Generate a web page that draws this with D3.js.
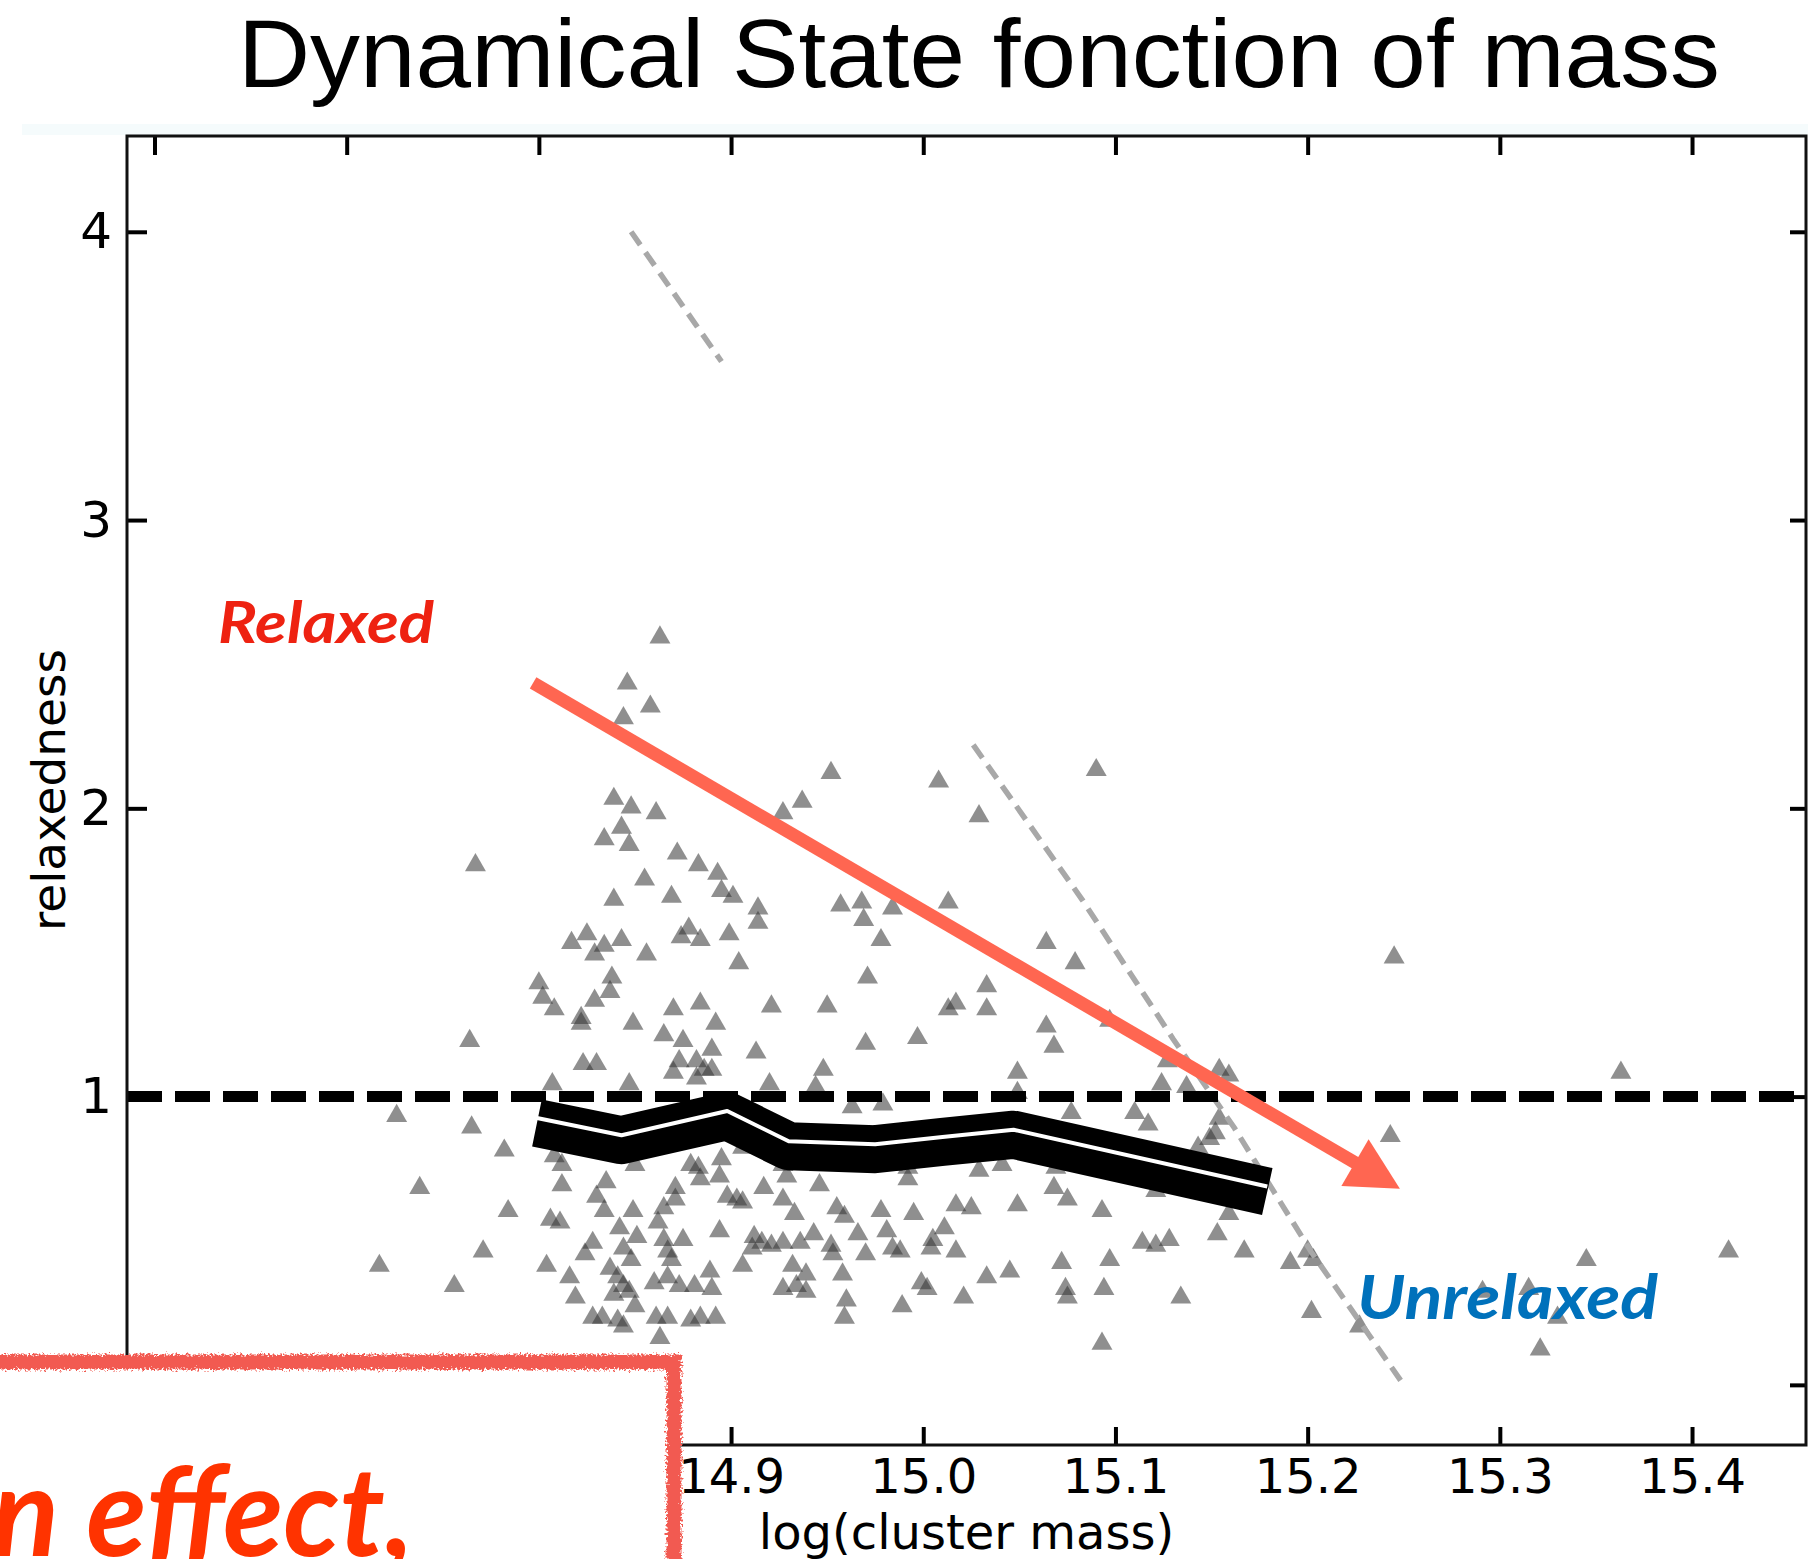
<!DOCTYPE html>
<html>
<head>
<meta charset="utf-8">
<script src="https://cdn.jsdelivr.net/npm/d3@7"></script>
<style>
  body { margin: 0; background: #fff; }
  svg { display: block; }
</style>
</head>
<body>
<div id="chart"></div>
<script>
var W = 1808, H = 1559;

// axis ranges and ticks
var massDomain = [14.5857, 15.4593];
var relaxDomain = [-0.2086, 4.3323];
var massTicks = [14.6, 14.7, 14.8, 14.9, 15.0, 15.1, 15.2, 15.3, 15.4];
var massTickLabels = ["", "", "", "14.9", "15.0", "15.1", "15.2", "15.3", "15.4"];
var relaxTicks = [0, 1, 2, 3, 4];
var relaxTickLabels = ["", "1", "2", "3", "4"];

// clusters (log mass, relaxedness)
var scatterMass = [
  14.863,14.846,14.858,14.844,14.952,15.008,14.839,14.848,14.861,14.937,14.927,14.843,14.834,14.847,14.767,14.872,
  14.883,14.893,14.855,14.895,14.901,14.869,14.839,14.914,14.914,14.957,14.968,14.969,14.984,15.013,15.090,15.029,
  14.978,14.825,14.817,14.834,14.843,14.829,14.856,14.878,14.874,14.884,14.899,14.904,14.800,14.802,14.838,14.837,
  14.829,14.808,14.822,14.822,14.849,14.870,14.884,14.892,14.865,14.875,14.890,14.913,14.921,14.950,14.971,14.970,
  14.997,15.013,14.764,14.823,14.830,14.873,14.882,14.886,14.890,14.870,14.882,14.948,14.807,14.847,14.920,14.944,
  14.963,14.979,14.765,14.782,14.808,14.812,14.850,14.879,14.883,14.895,14.906,14.894,14.884,14.927,14.929,14.992,
  14.984,14.992,14.812,14.835,14.830,14.834,14.849,14.871,14.871,14.865,14.898,14.903,14.906,14.917,14.927,14.946,
  14.955,14.959,14.978,14.995,15.011,14.784,14.806,14.811,14.933,14.842,14.851,14.862,14.865,14.875,14.894,14.828,
  14.824,14.844,14.848,14.867,14.869,14.912,14.916,14.921,14.927,14.936,14.943,14.952,14.966,14.970,14.981,14.988,
  14.984,15.004,15.005,14.906,14.911,14.932,14.939,14.953,14.958,14.771,14.804,14.816,14.819,14.837,14.841,14.844,
  14.839,14.847,14.850,14.860,14.867,14.873,14.881,14.889,14.890,14.934,14.939,14.927,14.960,14.959,14.989,14.999,
  15.002,14.833,14.841,14.844,14.828,14.861,14.867,14.879,14.884,14.892,14.863,14.756,
  15.064,15.079,15.033,15.017,15.033,15.064,15.068,15.097,15.049,15.124,15.127,15.137,15.154,15.159,15.049,15.077,
  15.110,15.117,15.154,15.152,15.149,15.143,15.029,15.041,15.069,15.121,15.068,15.075,15.017,15.025,15.049,15.093,
  15.159,15.153,15.017,15.114,15.121,15.128,15.167,15.191,15.200,15.203,15.072,15.097,15.045,15.033,15.074,15.075,
  15.094,15.021,15.134,15.202,15.093,
  15.245,15.363,15.243,15.345,15.419,15.315,15.291,15.330,15.227,15.321,
  14.726,14.738,14.717
];
var scatterRelax = [
  2.60,2.44,2.36,2.32,2.13,2.10,2.04,2.01,1.99,2.03,1.99,1.94,1.90,1.88,1.81,1.85,
  1.81,1.78,1.76,1.72,1.70,1.70,1.69,1.66,1.61,1.67,1.68,1.62,1.66,1.68,2.14,1.98,
  1.55,1.57,1.54,1.53,1.55,1.50,1.50,1.59,1.56,1.55,1.57,1.47,1.40,1.35,1.42,1.37,
  1.34,1.31,1.28,1.26,1.26,1.31,1.33,1.26,1.22,1.20,1.17,1.16,1.32,1.32,1.42,1.19,
  1.21,1.31,1.20,1.12,1.12,1.13,1.13,1.10,1.10,1.09,1.07,1.10,1.05,1.05,1.05,1.04,
  0.97,0.98,0.90,0.82,0.80,0.77,0.77,0.77,0.76,0.79,0.83,0.73,0.72,0.77,0.73,0.76,
  0.77,0.72,0.70,0.71,0.66,0.61,0.61,0.69,0.65,0.62,0.66,0.65,0.64,0.69,0.65,0.70,
  0.62,0.59,0.61,0.60,0.55,0.61,0.58,0.57,0.60,0.55,0.52,0.57,0.51,0.51,0.54,0.50,
  0.46,0.48,0.44,0.47,0.44,0.52,0.50,0.49,0.50,0.50,0.53,0.49,0.53,0.46,0.54,0.47,
  0.48,0.48,0.51,0.42,0.48,0.42,0.39,0.46,0.39,0.47,0.42,0.38,0.31,0.41,0.38,0.35,
  0.32,0.33,0.28,0.36,0.38,0.35,0.35,0.40,0.34,0.35,0.33,0.34,0.30,0.24,0.28,0.36,
  0.34,0.24,0.23,0.21,0.24,0.24,0.24,0.23,0.24,0.24,0.17,0.35,
  1.54,1.47,1.39,1.33,1.31,1.25,1.18,1.27,1.09,1.05,1.13,1.04,1.10,1.08,1.02,0.95,
  0.95,0.91,0.93,0.88,0.86,0.83,0.75,0.77,0.76,0.68,0.69,0.65,0.63,0.62,0.63,0.61,
  0.60,0.53,0.47,0.50,0.49,0.51,0.47,0.43,0.47,0.44,0.43,0.44,0.40,0.38,0.34,0.31,
  0.34,0.31,0.31,0.26,0.15,
  1.49,1.09,0.87,0.44,0.47,0.34,0.33,0.24,0.21,0.13,
  0.94,0.69,0.42
];

// running median band
var medianMass = [14.799, 14.843, 14.898, 14.930, 14.975, 15.010, 15.047, 15.179];
var medianRelax = [0.926, 0.866, 0.950, 0.845, 0.835, 0.860, 0.885, 0.688];

// grey dashed fit line (middle part hidden in the original)
var fitMassTop = [14.848, 14.895];
var fitRelaxTop = [4.0, 3.55];
var fitMassLow = [15.026, 15.083, 15.130, 15.162, 15.202, 15.250];
var fitRelaxLow = [2.22, 1.68, 1.20, 0.89, 0.46, 0.0];

// annotation arrow (data coords)
var arrowMass = [14.797, 15.248];
var arrowRelax = [2.435, 0.680];

var svg = d3.select("#chart").append("svg")
  .attr("width", W)
  .attr("height", H);

var defs = svg.append("defs");
var rough = defs.append("filter").attr("id", "rough")
  .attr("x", "-5%").attr("y", "-5%").attr("width", "110%").attr("height", "110%");
rough.append("feTurbulence")
  .attr("type", "fractalNoise")
  .attr("baseFrequency", "0.45")
  .attr("numOctaves", 3)
  .attr("result", "noise");
rough.append("feDisplacementMap")
  .attr("in", "SourceGraphic")
  .attr("in2", "noise")
  .attr("scale", 9)
  .attr("xChannelSelector", "R")
  .attr("yChannelSelector", "G");

svg.append("rect").attr("width", W).attr("height", H).attr("fill", "#fff");

// title
svg.append("text")
  .attr("x", 238)
  .attr("y", 87)
  .attr("textLength", 1482)
  .attr("lengthAdjust", "spacingAndGlyphs")
  .style("font-family", "'Liberation Sans', Arial, sans-serif")
  .style("font-size", "96px")
  .attr("fill", "#000")
  .text("Dynamical State fonction of mass");

// faint band left over from the pasted figure
svg.append("rect")
  .attr("x", 22).attr("y", 124)
  .attr("width", W - 22).attr("height", 11)
  .attr("fill", "#f5fbfc");

var x = d3.scaleLinear().domain(massDomain).range([127, 1806]);
var y = d3.scaleLinear().domain(relaxDomain).range([1445, 136]);

var plot = svg.append("g");

// scatter
var pts = scatterMass.map(function(m, i) { return { m: m, r: scatterRelax[i] }; });
var tri = d3.symbol().type(d3.symbolTriangle).size(190);
plot.append("g")
  .selectAll("path")
  .data(pts)
  .join("path")
  .attr("d", tri)
  .attr("transform", function(d) { return "translate(" + x(d.m) + "," + (y(d.r) + 2) + ")"; })
  .attr("fill", "#333")
  .attr("fill-opacity", 0.55);

// grey dashed fit
var fitLine = d3.line()
  .x(function(d) { return x(d[0]); })
  .y(function(d) { return y(d[1]); });
[[fitMassTop, fitRelaxTop], [fitMassLow, fitRelaxLow]].forEach(function(s) {
  plot.append("path")
    .datum(s[0].map(function(m, i) { return [m, s[1][i]]; }))
    .attr("d", fitLine)
    .attr("fill", "none")
    .attr("stroke", "#a8a8a8")
    .attr("stroke-width", 5.5)
    .attr("stroke-dasharray", "16 9");
});

// relaxedness = 1
plot.append("line")
  .attr("x1", x(massDomain[0])).attr("x2", x(massDomain[1]))
  .attr("y1", y(1)).attr("y2", y(1))
  .attr("stroke", "#000")
  .attr("stroke-width", 11)
  .attr("stroke-dasharray", "35 13");

// median band
var med = medianMass.map(function(m, i) { return [m, medianRelax[i]]; });
var medLine = d3.line()
  .x(function(d) { return x(d[0]); })
  .y(function(d) { return y(d[1]); });
plot.append("path")
  .datum(med)
  .attr("d", medLine)
  .attr("transform", "translate(0,5)")
  .attr("fill", "none")
  .attr("stroke", "#000")
  .attr("stroke-width", 48)
  .attr("stroke-linejoin", "round");
plot.append("path")
  .datum(med)
  .attr("d", medLine)
  .attr("fill", "none")
  .attr("stroke", "#fff")
  .attr("stroke-width", 4)
  .attr("stroke-linejoin", "round");

// axes: ticks point inward
function tidy(g) {
  g.select(".domain").remove();
  g.selectAll(".tick line").attr("stroke", "#000").attr("stroke-width", 4);
  g.selectAll(".tick text")
    .attr("fill", "#000")
    .style("font-family", "'DejaVu Sans', sans-serif");
}
svg.append("g")
  .attr("transform", "translate(0,1445)")
  .call(d3.axisBottom(x).tickValues(massTicks)
    .tickFormat(function(d, i) { return massTickLabels[i]; })
    .tickSize(-18).tickPadding(14))
  .call(tidy)
  .selectAll(".tick text").style("font-size", "48px");
svg.append("g")
  .attr("transform", "translate(0,136)")
  .call(d3.axisTop(x).tickValues(massTicks).tickFormat("").tickSize(-19))
  .call(tidy);
svg.append("g")
  .attr("transform", "translate(127,0)")
  .call(d3.axisLeft(y).tickValues(relaxTicks)
    .tickFormat(function(d, i) { return relaxTickLabels[i]; })
    .tickSize(-20).tickPadding(15))
  .call(tidy)
  .selectAll(".tick text").style("font-size", "50px");
svg.append("g")
  .attr("transform", "translate(1806,0)")
  .call(d3.axisRight(y).tickValues(relaxTicks).tickFormat("").tickSize(-16))
  .call(tidy);

// spines
svg.append("rect")
  .attr("x", 127).attr("y", 136)
  .attr("width", 1806 - 127).attr("height", 1445 - 136)
  .attr("fill", "none")
  .attr("stroke", "#111")
  .attr("stroke-width", 3);

// axis titles
svg.append("text")
  .attr("x", (127 + 1806) / 2)
  .attr("y", 1549)
  .attr("text-anchor", "middle")
  .style("font-family", "'DejaVu Sans', sans-serif")
  .style("font-size", "48px")
  .text("log(cluster mass)");
svg.append("text")
  .attr("transform", "translate(65,790) rotate(-90)")
  .attr("text-anchor", "middle")
  .style("font-family", "'DejaVu Sans', sans-serif")
  .style("font-size", "47px")
  .text("relaxedness");

// arrow
var a0 = [x(arrowMass[0]), y(arrowRelax[0])];
var a1 = [x(arrowMass[1]), y(arrowRelax[1])];
var ang = Math.atan2(a1[1] - a0[1], a1[0] - a0[0]);
var headLen = 52, headHalf = 27;
var base = [a1[0] - headLen * Math.cos(ang), a1[1] - headLen * Math.sin(ang)];
var px = -Math.sin(ang), py = Math.cos(ang);
svg.append("line")
  .attr("x1", a0[0]).attr("y1", a0[1])
  .attr("x2", base[0] + 4 * Math.cos(ang)).attr("y2", base[1] + 4 * Math.sin(ang))
  .attr("stroke", "#ff6651")
  .attr("stroke-width", 13);
svg.append("polygon")
  .attr("points", [a1, [base[0] + px * headHalf, base[1] + py * headHalf], [base[0] - px * headHalf, base[1] - py * headHalf]]
    .map(function(p) { return p.join(","); }).join(" "))
  .attr("fill", "#ff6651");

// labels
svg.append("text")
  .attr("x", 218).attr("y", 643)
  .attr("textLength", 216)
  .attr("lengthAdjust", "spacingAndGlyphs")
  .style("font-family", "Lato, 'Open Sans', sans-serif")
  .style("font-size", "57px")
  .style("font-weight", 700)
  .style("font-style", "italic")
  .attr("fill", "#ee2211")
  .text("Relaxed");
svg.append("text")
  .attr("x", 1357).attr("y", 1319)
  .attr("textLength", 301)
  .attr("lengthAdjust", "spacingAndGlyphs")
  .style("font-family", "Lato, 'Open Sans', sans-serif")
  .style("font-size", "62px")
  .style("font-weight", 700)
  .style("font-style", "italic")
  .attr("fill", "#0071bb")
  .text("Unrelaxed");

// callout box in the corner
svg.append("rect")
  .attr("x", -40).attr("y", 1362)
  .attr("width", 714).attr("height", 300)
  .attr("fill", "#fff");
svg.append("rect")
  .attr("x", -40).attr("y", 1362)
  .attr("width", 714).attr("height", 300)
  .attr("fill", "none")
  .attr("stroke", "#f25a51")
  .attr("stroke-width", 15)
  .attr("filter", "url(#rough)");
svg.append("text")
  .attr("x", 414).attr("y", 1556)
  .attr("text-anchor", "end")
  .style("font-family", "Lato, 'Open Sans', sans-serif")
  .style("font-size", "124px")
  .style("font-weight", 700)
  .style("font-style", "italic")
  .attr("fill", "#ff3300")
  .text("n effect,");
</script>
</body>
</html>
